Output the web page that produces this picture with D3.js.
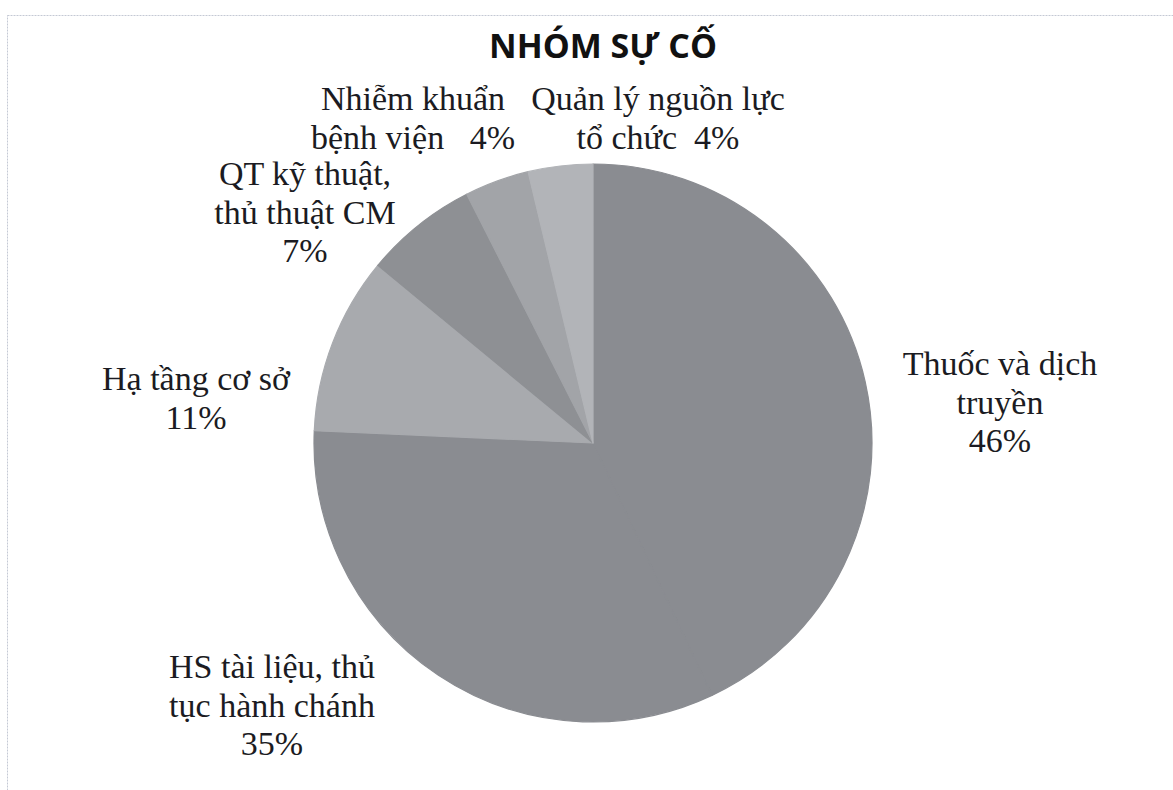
<!DOCTYPE html>
<html>
<head>
<meta charset="utf-8">
<script src="https://cdn.jsdelivr.net/npm/d3@7"></script>
<style>
  html, body { margin: 0; padding: 0; background: #fff; }
  text { white-space: pre; }
</style>
</head>
<body>
<div id="visual"></div>
<script>
// data (Excel normalised these, sum is 107)
const categories = [
    "Thuốc và dịch truyền",
    "HS tài liệu, thủ tục hành chánh",
    "Hạ tầng cơ sở",
    "QT kỹ thuật, thủ thuật CM",
    "Nhiễm khuẩn bệnh viện",
    "Quản lý nguồn lực tổ chức"
];
const values = [46, 35, 11, 7, 4, 4];
const labelLines = [
    ["Thuốc và dịch", "truyền", "{v}"],
    ["HS tài liệu, thủ", "tục hành chánh", "{v}"],
    ["Hạ tầng cơ sở", "{v}"],
    ["QT kỹ thuật,", "thủ thuật CM", "{v}"],
    ["Nhiễm khuẩn", "bệnh viện   {v}"],
    ["Quản lý nguồn lực", "tổ chức  {v}"]
];
const title = "NHÓM SỰ CỐ";

const width = 1173;
const height = 790;
const cx = 593, cy = 443, radius = 279;

const colors = ["#8a8c91", "#8a8c91", "#a8aaae", "#8e9094", "#a2a4a8", "#b2b4b8"];
// label block centre x and first baseline y, tuned to the reference
const labelPos = [[1000, 375], [272, 678], [196, 390], [305, 185], [413, 110], [658, 110]];

const data = categories.map((c, i) => ({ name: c, value: values[i], lines: labelLines[i] }));

const svg = d3.select("#visual")
    .append("svg")
    .attr("width", width)
    .attr("height", height);

// dotted frame of the chart area
svg.append("rect")
    .attr("x", 7.5).attr("y", 15.5)
    .attr("width", 1200).attr("height", 800)
    .attr("fill", "none")
    .attr("stroke", "#c4c9d4")
    .attr("stroke-width", 1)
    .attr("stroke-dasharray", "2,1");

svg.append("text")
    .attr("x", 603)
    .attr("y", 58)
    .attr("text-anchor", "middle")
    .attr("font-family", "'Open Sans', 'Noto Sans', sans-serif")
    .attr("font-weight", "bold")
    .attr("font-size", 34)
    .attr("fill", "#111")
    .text(title);

const pie = d3.pie().value(d => d.value).sort(null);
const arc = d3.arc().innerRadius(0).outerRadius(radius);

const g = svg.append("g")
    .attr("transform", "translate(" + cx + "," + cy + ")");

g.selectAll("path")
    .data(pie(data))
    .enter()
    .append("path")
    .attr("d", arc)
    .attr("fill", (d, i) => colors[i])
    .attr("stroke", (d, i) => colors[i])
    .attr("stroke-width", 1.2)
    .attr("stroke-linejoin", "round");

const lineH = 38.5;
const labels = svg.selectAll("text.lbl")
    .data(data)
    .enter()
    .append("text")
    .attr("class", "lbl")
    .attr("text-anchor", "middle")
    .attr("font-family", "'Liberation Serif', 'Times New Roman', serif")
    .attr("font-size", 34)
    .attr("fill", "#1b1b22");

labels.each(function (d, i) {
    const t = d3.select(this);
    d.lines.forEach((ln, j) => {
        t.append("tspan")
            .attr("x", labelPos[i][0])
            .attr("y", labelPos[i][1] + j * lineH)
            .text(ln.replace("{v}", d.value + "%"));
    });
});
</script>
</body>
</html>
